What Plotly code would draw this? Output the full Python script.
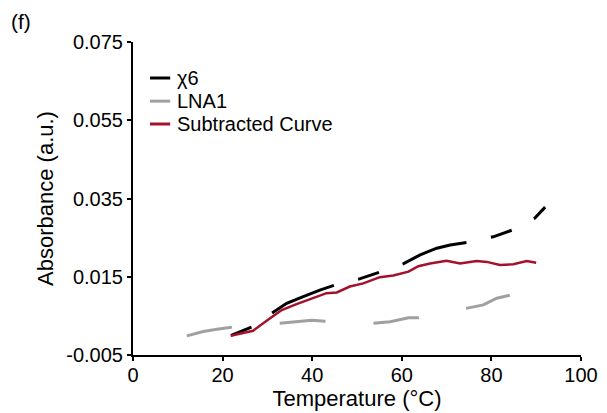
import plotly.graph_objects as go

# chi6 melting curve
t_chi6 = [21.9, 26.6, 31.0, 34.3, 38.0, 41.7, 44.9, 50.4, 55.1, 60.3, 64.1, 67.8, 70.8, 74.8, 80.4, 84.8, 89.7, 92.0]
a_chi6 = [0.0000, 0.0022, 0.0057, 0.0082, 0.0099, 0.0116, 0.0128, 0.0144, 0.0162, 0.0183, 0.0206, 0.0223, 0.0231, 0.0238, 0.0252, 0.0270, 0.0300, 0.0328]

# LNA1 melting curve
t_lna1 = [12.0, 15.7, 18.7, 22.0, 32.6, 36.5, 39.9, 42.9, 53.6, 57.4, 61.5, 63.7, 74.3, 78.2, 81.2, 84.2]
a_lna1 = [-0.0001, 0.0010, 0.0016, 0.0021, 0.0031, 0.0035, 0.0039, 0.0036, 0.0031, 0.0035, 0.0045, 0.0045, 0.0069, 0.0078, 0.0095, 0.0103]

# subtracted curve
t_sub = [21.8, 26.8, 30.6, 33.2, 36.5, 40.2, 43.2, 45.5, 48.4, 51.4, 55.1, 58.1, 61.5, 63.7, 66.3, 70.0, 73.0, 76.7, 79.0, 81.9, 84.9, 87.9, 90.0]
a_sub = [-0.0001, 0.0012, 0.0044, 0.0065, 0.0080, 0.0095, 0.0108, 0.0110, 0.0125, 0.0133, 0.0149, 0.0153, 0.0163, 0.0177, 0.0184, 0.0191, 0.0184, 0.0190, 0.0188, 0.0180, 0.0182, 0.0190, 0.0186]

x_ticks = [0, 20, 40, 60, 80, 100]
y_ticks = [-0.005, 0.015, 0.035, 0.055, 0.075]
y_ticktext = ["-0.005", "0.015", "0.035", "0.055", "0.075"]

names = ["χ6", "LNA1", "Subtracted Curve"]
colors = ["#000000", "#a0a0a0", "#a3112c"]

FONT = "Arial, Liberation Sans, sans-serif"

fig = go.Figure()
fig.add_trace(go.Scatter(x=t_chi6, y=a_chi6, mode="lines", name=names[0],
                         line=dict(color=colors[0], width=3, dash="22px,25px,68px,25px")))
fig.add_trace(go.Scatter(x=t_lna1, y=a_lna1, mode="lines", name=names[1],
                         line=dict(color=colors[1], width=3, dash="46px,48px")))
fig.add_trace(go.Scatter(x=t_sub, y=a_sub, mode="lines", name=names[2],
                         line=dict(color=colors[2], width=2.5)))

# hand-drawn legend (tighter spacing than plotly's own)
leg_y = [0.885, 0.811, 0.738]
for name, col, yy in zip(names, colors, leg_y):
    fig.add_shape(type="line", xref="paper", yref="paper", x0=0.038, x1=0.083, y0=yy, y1=yy,
                  line=dict(color=col, width=3))
    fig.add_annotation(text=name, xref="paper", yref="paper", x=0.094, y=yy,
                       xanchor="left", yanchor="middle", showarrow=False,
                       font=dict(size=20, color="black", family=FONT))

fig.add_annotation(text="(f)", xref="paper", yref="paper", x=-0.276, y=1.064,
                   xanchor="left", yanchor="middle", showarrow=False,
                   font=dict(size=21, color="black", family=FONT))

axis_common = dict(showline=True, linecolor="black", linewidth=2, ticks="outside",
                   ticklen=4, tickwidth=2, tickcolor="black", showgrid=False, zeroline=False,
                   automargin=False,
                   tickfont=dict(size=20, color="black", family=FONT))

fig.update_layout(
    width=607, height=413,
    margin=dict(l=133, r=26, t=42, b=58),
    plot_bgcolor="white", paper_bgcolor="white",
    showlegend=False,
    font=dict(family=FONT, color="black"),
    xaxis=dict(range=[0, 100], tickvals=x_ticks, ticklabelstandoff=-3,
               title=dict(text="Temperature (°C)", font=dict(size=22), standoff=2),
               **axis_common),
    yaxis=dict(range=[-0.005, 0.075], tickvals=y_ticks, ticktext=y_ticktext,
               title=dict(text="Absorbance (a.u.)", font=dict(size=22), standoff=7),
               **axis_common),
)

# drop the page's default body margin so the figure sits at the window corner
fig.write_html("out.html", config={"displayModeBar": False},
               post_script="document.body.style.margin='0';document.body.style.overflow='hidden';")
